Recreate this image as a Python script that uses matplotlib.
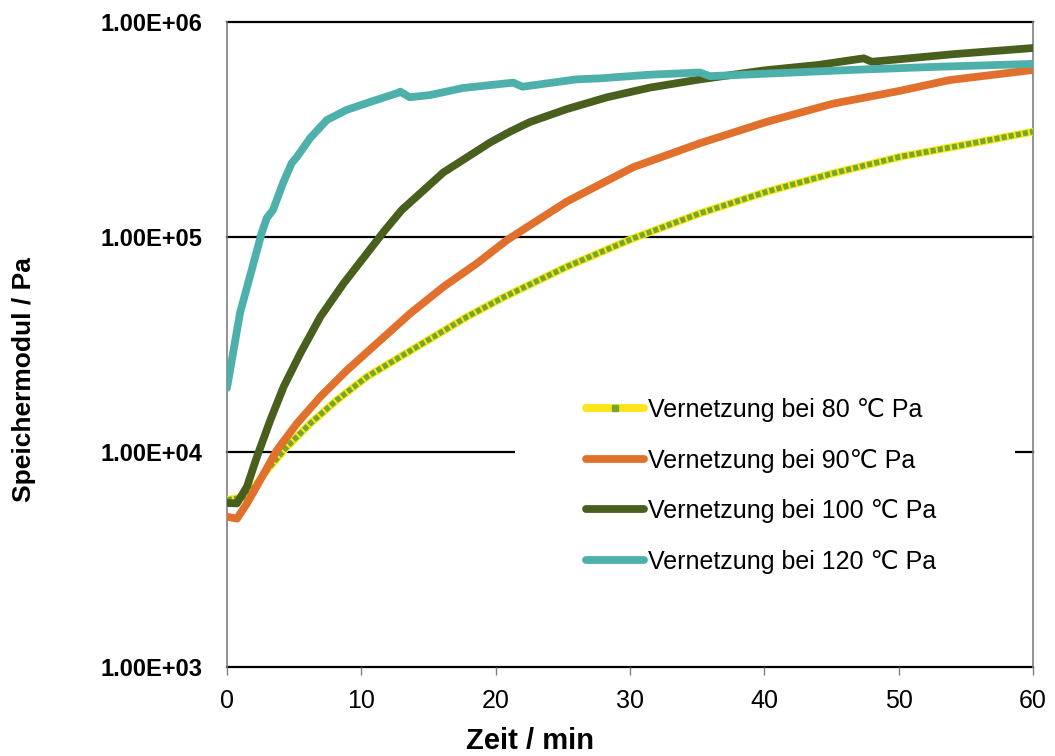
import matplotlib
matplotlib.use("Agg")
import matplotlib.pyplot as plt
from matplotlib.lines import Line2D
from matplotlib.patches import Rectangle
from matplotlib.ticker import FuncFormatter, NullLocator, FixedLocator

plt.rcParams['font.family'] = ['Liberation Sans', 'DejaVu Sans']
plt.rcParams['lines.scale_dashes'] = False

# ---- data (time in min, storage modulus in Pa) ----
t_80 = [0, 1.49, 2.98, 4.47, 6.2, 8.19, 10.42, 12.9, 15.39, 17.87, 20.6, 25.3,
        30.25, 35.2, 40.2, 45.1, 50.1, 55, 60]
g_80 = [5984, 6194, 8241, 10590, 13580, 17460, 22390, 27730, 34360, 42560, 52480,
        72780, 98620, 128800, 162600, 197700, 236000, 269200, 309000]

t_90 = [0, 0.74, 1.49, 2.48, 3.72, 5.21, 6.95, 8.94, 11.17, 13.65, 16.13, 18.6,
        20.85, 25.3, 30.25, 35.2, 40.2, 45.1, 50.1, 53.8, 60]
g_90 = [5000, 4898, 5768, 7413, 10210, 13580, 18070, 24040, 32060, 44160, 58750,
        75340, 96830, 146200, 211300, 272900, 343600, 416900, 478600, 537000, 598400]

t_100 = [0, 0.74, 1.49, 2.23, 3.23, 4.22, 5.46, 6.95, 8.69, 10.42, 11.67, 13.0,
         16.1, 19.6, 21.07, 22.56, 25.3, 28.3, 31.5, 35.2, 40, 44, 47.4, 48.0, 54, 60]
g_100 = [5794, 5768, 6902, 9506, 14090, 20140, 28770, 42560, 60950, 83950, 105900,
         133400, 199500, 275400, 309000, 342800, 393600, 446700, 495500, 540800,
         595700, 631000, 677700, 653100, 707900, 756800]

t_120 = [0, 0.97, 1.84, 2.58, 2.96, 3.43, 4.17, 4.82, 5.2, 6.19, 7.43, 8.9, 10.65,
         12.72, 12.9, 13.6, 15.1, 17.57, 21.3, 22.0, 26, 27.8, 31.5, 35.2, 35.96,
         46.4, 53, 60]
g_120 = [19860, 44360, 70310, 104400, 122500, 133700, 178200, 220800, 235500,
         288400, 349900, 389900, 424600, 467700, 474300, 446700, 457100, 493200,
         522400, 500000, 540800, 547000, 568900, 582100, 559800, 598400, 619400,
         638300]

labels = ["Vernetzung bei 80 \u2103 Pa", "Vernetzung bei 90\u2103 Pa",
          "Vernetzung bei 100 \u2103 Pa", "Vernetzung bei 120 \u2103 Pa"]
x_ticks = [0, 10, 20, 30, 40, 50, 60]
y_ticks = [1e3, 1e4, 1e5, 1e6]

# ---- colours ----
c_yellow = '#FFE419'
c_green = '#72A82E'
c_orange = '#E0702C'
c_dark = '#485F1E'
c_teal = '#4DB0AA'

fig = plt.figure(figsize=(10.55, 7.56), dpi=100)
ax = fig.add_axes([227/1055, 1-667/756, (1033-227)/1055, (667-22)/756])

ax.set_yscale('log')
ax.set_xlim(0, 60)
ax.set_ylim(1e3, 1e6)

# gridlines
for yv in y_ticks:
    ax.axhline(yv, color='black', lw=1.6, zorder=1, clip_on=False)

# white legend background hides part of the 1e4 gridline
ax.add_patch(Rectangle(((515-227)/806, (667-585)/645), (1015-515)/806, 200/645,
                       transform=ax.transAxes, facecolor='white', edgecolor='none',
                       zorder=1.5))

lw = 5.6
ax.plot(t_80, g_80, color=c_yellow, lw=lw, solid_capstyle='round',
        solid_joinstyle='round', zorder=3)
ax.plot(t_80, g_80, color=c_green, lw=4.0, linestyle=(0, (3.7, 1.5)),
        dash_capstyle='butt', zorder=3.1)
ax.plot(t_90, g_90, color=c_orange, lw=lw, solid_capstyle='round',
        solid_joinstyle='round', zorder=4)
ax.plot(t_100, g_100, color=c_dark, lw=lw, solid_capstyle='round',
        solid_joinstyle='round', zorder=5)
ax.plot(t_120, g_120, color=c_teal, lw=lw, solid_capstyle='round',
        solid_joinstyle='round', zorder=6)

# spines
for s in ['top', 'bottom']:
    ax.spines[s].set_visible(False)
ax.spines['left'].set_color('#808080')
ax.spines['right'].set_color('#808080')
ax.spines['left'].set_linewidth(1.2)
ax.spines['right'].set_linewidth(1.2)

ax.xaxis.set_major_locator(FixedLocator(x_ticks))
ax.tick_params(axis='x', direction='out', length=6, width=1.0, color='#808080',
               labelsize=18, pad=10)
ax.yaxis.set_major_locator(FixedLocator(y_ticks))
ax.yaxis.set_minor_locator(NullLocator())
ax.yaxis.set_major_formatter(FuncFormatter(lambda v, p: f"{v:.2E}"))
ax.tick_params(axis='y', length=0, labelsize=17, pad=18)
for lab in ax.get_yticklabels():
    lab.set_fontweight('bold')

ax.set_xlabel("Zeit / min", fontsize=21, fontweight='bold', va='center')
ax.xaxis.set_label_coords((530-227)/806, (667-741)/645)
ax.set_ylabel("Speichermodul / Pa", fontsize=19, fontweight='bold', va='center')
ax.yaxis.set_label_coords((24-227)/806, (667-380)/645)

handles = [
    Line2D([], [], color=c_yellow, lw=lw, marker='s', markersize=4,
           markerfacecolor=c_green, markeredgecolor=c_green, solid_capstyle='round'),
    Line2D([], [], color=c_orange, lw=lw, solid_capstyle='round'),
    Line2D([], [], color=c_dark, lw=lw, solid_capstyle='round'),
    Line2D([], [], color=c_teal, lw=lw, solid_capstyle='round'),
]
leg = ax.legend(handles, labels, loc='upper left',
                bbox_to_anchor=(586/1055, 1-398/756), bbox_transform=fig.transFigure,
                frameon=False, fontsize=18, handlelength=2.3, handletextpad=0.2,
                labelspacing=1.06, borderpad=0, borderaxespad=0, numpoints=1)
leg.set_zorder(10)

fig.savefig("out.png", dpi=100)
